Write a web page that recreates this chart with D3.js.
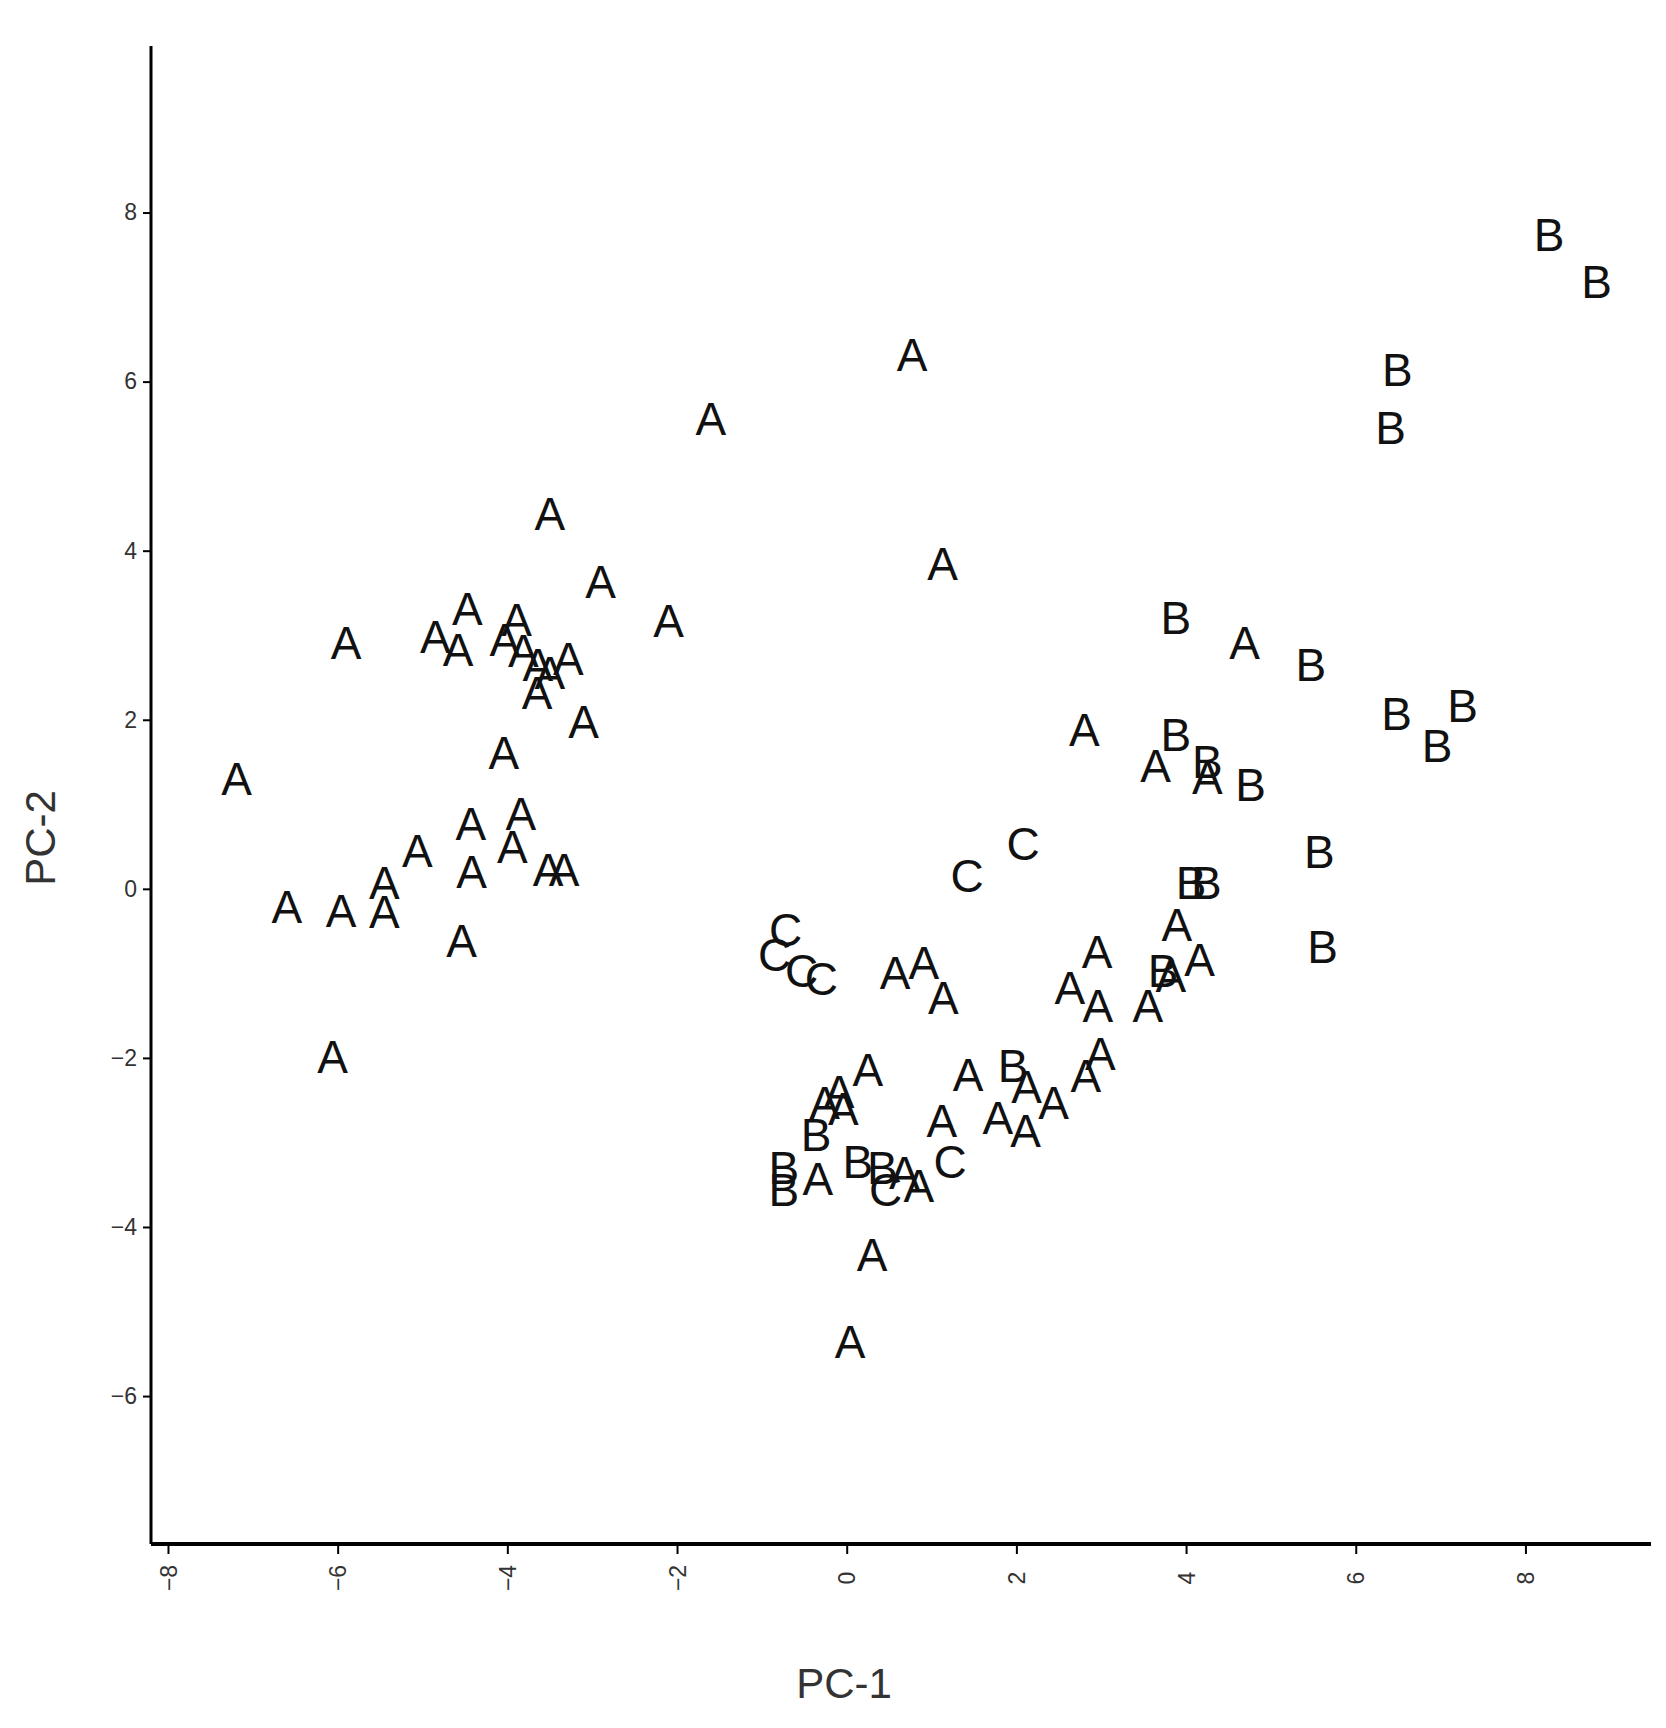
<!DOCTYPE html>
<html><head><meta charset="utf-8">
<script src="https://cdn.jsdelivr.net/npm/d3@7"></script>
<style>body{margin:0;background:#fff}svg{display:block}</style>
</head><body><svg id="chart" width="1666" height="1728"></svg>
<script>
// PC scores, one array per group
var groupA = [[0.77,6.32],[-1.6,5.56],[-3.5,4.44],[-2.9,3.64],[-2.1,3.17],[1.13,3.85],[-5.9,2.91],[-4.47,3.32],
  [-4.85,2.99],[-4.58,2.83],[-3.89,3.19],[-4.03,2.95],[-3.81,2.82],[-3.64,2.65],[-3.5,2.56],[-3.65,2.32],[-3.28,2.72],
  [-3.1,1.98],[-4.04,1.61],[-7.19,1.31],[-3.84,0.89],[-4.43,0.77],[-5.06,0.46],[-3.94,0.5],[-4.42,0.2],[-5.45,0.07],
  [-5.45,-0.27],[-3.52,0.23],[-3.33,0.23],[-6.6,-0.21],[-5.96,-0.25],[-4.54,-0.61],[-6.06,-1.98],[2.8,1.89],[4.69,2.92],
  [3.64,1.46],[4.25,1.32],[3.89,-0.42],[2.95,-0.74],[2.63,-1.17],[2.96,-1.38],[3.55,-1.38],[3.82,-1.03],[4.16,-0.84],
  [0.57,-0.99],[0.91,-0.87],[1.14,-1.28],[2.99,-1.95],[2.82,-2.21],[1.43,-2.19],[0.25,-2.14],[-0.09,-2.4],[-0.26,-2.53],
  [-0.04,-2.6],[2.12,-2.34],[2.44,-2.53],[1.78,-2.7],[2.11,-2.86],[1.12,-2.74],[-0.34,-3.42],[0.68,-3.36],[0.85,-3.51],
  [0.3,-4.33],[0.04,-5.35]];
var groupB = [[8.28,7.74],[8.84,7.18],[6.49,6.14],[6.41,5.46],[3.88,3.21],[5.47,2.66],[6.48,2.08],[7.26,2.17],[6.96,1.7],
  [3.88,1.83],[4.25,1.51],[4.76,1.23],[5.57,0.44],[5.61,-0.68],[4.06,0.08],[4.24,0.08],[3.73,-0.97],[1.96,-2.09],
  [-0.36,-2.9],[-0.74,-3.29],[-0.74,-3.55],[0.13,-3.22],[0.42,-3.29]];
var groupC = [[2.08,0.54],[1.42,0.16],[-0.72,-0.48],[-0.85,-0.78],[-0.53,-0.97],[-0.3,-1.06],[1.22,-3.22],[0.46,-3.55]];
var xTicks = [-8,-6,-4,-2,0,2,4,6,8];
var yTicks = [-6,-4,-2,0,2,4,6,8];

var mLeft = 151, mTop = 46, mRight = 1651, mBottom = 1544;
var svg = d3.select("#chart");
var x = d3.scaleLinear().domain([-8.2,9.48]).range([mLeft,mRight]);
var y = d3.scaleLinear().domain([-7.75,9.97]).range([mBottom,mTop]);

var points = [];
groupA.forEach(function(d){points.push({x:d[0],y:d[1],g:"A"})});
groupB.forEach(function(d){points.push({x:d[0],y:d[1],g:"B"})});
groupC.forEach(function(d){points.push({x:d[0],y:d[1],g:"C"})});

svg.selectAll("text.pt").data(points).enter().append("text")
  .attr("class","pt")
  .attr("x",function(d){return x(d.x)})
  .attr("y",function(d){return y(d.y)})
  .attr("dy","0.36em")
  .attr("text-anchor","middle")
  .style("font-family","Liberation Sans, Arial, sans-serif")
  .style("font-size","46px")
  .style("fill","#111")
  .text(function(d){return d.g});

var xAxis = svg.append("g").attr("transform","translate(0,"+mBottom+")")
  .call(d3.axisBottom(x).tickValues(xTicks).tickSize(10).tickSizeOuter(0).tickFormat(d3.format("d")));
xAxis.select(".domain").attr("d","M"+mLeft+",0H"+mRight).attr("stroke-width",4);
xAxis.selectAll(".tick line").attr("stroke-width",2);
xAxis.selectAll(".tick text").attr("transform","rotate(-90)")
  .attr("x",-34).attr("y",0).attr("dy","0.35em").attr("text-anchor","middle")
  .style("font-size","23px").style("fill","#333").style("font-family","Liberation Sans, Arial, sans-serif");

var yAxis = svg.append("g").attr("transform","translate("+mLeft+",0)")
  .call(d3.axisLeft(y).tickValues(yTicks).tickSize(8).tickSizeOuter(0).tickFormat(d3.format("d")));
yAxis.select(".domain").attr("d","M0,"+mTop+"V"+mBottom).attr("stroke-width",3);
yAxis.selectAll(".tick line").attr("stroke-width",2);
yAxis.selectAll(".tick text").attr("x",-14)
  .style("font-size","23px").style("fill","#333").style("font-family","Liberation Sans, Arial, sans-serif");

svg.append("text").attr("x",844).attr("y",1698).attr("text-anchor","middle")
  .style("font-family","Liberation Sans, Arial, sans-serif").style("font-size","42px").style("fill","#333")
  .text("PC-1");
svg.append("text").attr("transform","translate(55,838) rotate(-90)").attr("text-anchor","middle")
  .style("font-family","Liberation Sans, Arial, sans-serif").style("font-size","42px").style("fill","#333")
  .text("PC-2");
</script></body></html>
